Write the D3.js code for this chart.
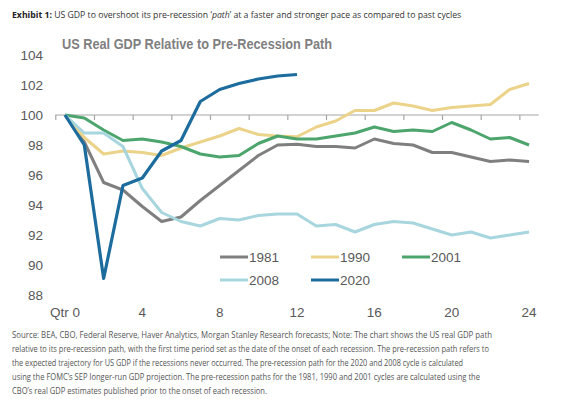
<!DOCTYPE html>
<html><head><meta charset="utf-8">
<script src="https://cdn.jsdelivr.net/npm/d3@7"></script>
<style>
html,body{margin:0;padding:0;background:#fff;}
svg{display:block;}
</style></head>
<body>
<svg id="chart" width="575" height="399"></svg>
<script>
const quarters = [0,1,2,3,4,5,6,7,8,9,10,11,12,13,14,15,16,17,18,19,20,21,22,23,24];
const xTickLabels = ["Qtr 0","4","8","12","16","20","24"];
const xTickQuarters = [0,4,8,12,16,20,24];
const yTicks = [88,90,92,94,96,98,100,102,104];

const s1981 = [100,98.2,95.5,95.0,93.9,92.9,93.2,94.3,95.3,96.3,97.3,98.0,98.05,97.9,97.9,97.8,98.4,98.1,98.0,97.5,97.5,97.2,96.9,97.0,96.9];
const s1990 = [100,98.5,97.4,97.6,97.5,97.3,97.8,98.2,98.6,99.1,98.7,98.6,98.55,99.2,99.6,100.3,100.3,100.8,100.6,100.3,100.5,100.6,100.7,101.7,102.1];
const s2001 = [100,99.8,99.0,98.3,98.4,98.2,97.9,97.4,97.2,97.3,98.1,98.6,98.4,98.4,98.6,98.8,99.2,98.9,99.0,98.9,99.5,99.0,98.4,98.5,98.0];
const s2008 = [100,98.8,98.8,97.9,95.1,93.5,92.9,92.6,93.1,93.0,93.3,93.4,93.4,92.6,92.7,92.2,92.7,92.9,92.8,92.4,92.0,92.2,91.8,92.0,92.2];
const s2020 = [100,98.0,89.1,95.3,95.8,97.6,98.3,100.9,101.7,102.1,102.4,102.6,102.7];

const seriesNames = ["1981","1990","2001","2008","2020"];
const seriesData = [s1981,s1990,s2001,s2008,s2020];
const seriesColors = ["#7f7f7f","#ecd38a","#4ca56c","#a8d6de","#1d6c9e"];

const headerBold = "Exhibit 1:";
const headerRest = " US GDP to overshoot its pre-recession ";
const headerItalic = "path";
const headerEnd = " at a faster and stronger pace as compared to past cycles";
const chartTitle = "US Real GDP Relative to Pre-Recession Path";
const sourceLines = [
 "Source: BEA, CBO, Federal Reserve, Haver Analytics, Morgan Stanley Research forecasts; Note: The chart shows the US real GDP path",
 "relative to its pre-recession path, with the first time period set as the date of the onset of each recession. The pre-recession path refers to",
 "the expected trajectory for US GDP if the recessions never occurred. The pre-recession path for the 2020 and 2008 cycle is calculated",
 "using the FOMC’s SEP longer-run GDP projection. The pre-recession paths for the 1981, 1990 and 2001 cycles are calculated using the",
 "CBO’s real GDP estimates published prior to the onset of each recession."
];
const sourceWidths = [480,477,451,468,255];

const svg = d3.select("#chart");
const x = d3.scaleLinear().domain([-0.5,24.5]).range([55.3,538.7]);
const y = d3.scaleLinear().domain([88,104]).range([295,55]);

// header (font size scaled to match target width)
const h = svg.append("text").attr("x",12).attr("y",17.5)
  .attr("font-family","'Open Sans', sans-serif").attr("font-size",10).attr("fill","#333");
h.append("tspan").attr("font-weight","bold").attr("fill","#222").text(headerBold);
h.append("tspan").text(headerRest + "‘");
h.append("tspan").attr("font-style","italic").text(headerItalic);
h.append("tspan").text("’" + headerEnd);
const hw = h.node().getComputedTextLength();
h.attr("font-size", 10 * 450 / hw);

// chart title
svg.append("text").attr("x",62).attr("y",48.5)
  .attr("font-family","'Liberation Sans', Arial, sans-serif").attr("font-size",15).attr("font-weight","bold")
  .attr("fill","#7f7f7f").attr("textLength",270).attr("lengthAdjust","spacingAndGlyphs").text(chartTitle);

// y axis labels
svg.append("g").selectAll("text").data(yTicks).join("text")
  .attr("x",43).attr("y",d=>y(d)).attr("dy","0.35em").attr("text-anchor","end")
  .attr("font-family","'Liberation Sans', Arial, sans-serif").attr("font-size",13.5).attr("fill","#595959")
  .text(d=>d);

// x axis at 100
const tickVals = [-0.5,1.5,3.5,5.5,7.5,9.5,11.5,13.5,15.5,17.5,19.5,21.5,23.5];
const xAxis = d3.axisBottom(x).tickValues(tickVals).tickSize(5).tickFormat("");
const gx = svg.append("g").attr("transform",`translate(0,${y(100)})`).call(xAxis);
gx.select(".domain").attr("stroke","#a6a6a6").attr("stroke-width",1.2).attr("d",`M${x(-0.5)},0H${x(24.5)}`);
gx.selectAll(".tick line").attr("stroke","#a6a6a6").attr("stroke-width",1.2);

// x labels
svg.append("g").selectAll("text").data(xTickQuarters).join("text")
  .attr("x",d=>x(d)).attr("y",316.5).attr("text-anchor","middle")
  .attr("font-family","'Liberation Sans', Arial, sans-serif").attr("font-size",13.5).attr("fill","#595959")
  .text((d,i)=>xTickLabels[i]);

// lines
const line = d3.line().x((d,i)=>x(quarters[i])).y(d=>y(d));
svg.append("g").selectAll("path").data(seriesData).join("path")
  .attr("d",d=>line(d)).attr("fill","none")
  .attr("stroke",(d,i)=>seriesColors[i]).attr("stroke-width",(d,i)=>i===4?3.2:3)
  .attr("stroke-linejoin","round");

// legend
const legPos = [[220,257],[311,257],[402,257],[220,280],[311,280]];
const leg = svg.append("g").selectAll("g").data(seriesNames).join("g")
  .attr("transform",(d,i)=>`translate(${legPos[i][0]},${legPos[i][1]})`);
leg.append("line").attr("x1",0).attr("x2",28).attr("y1",0).attr("y2",0)
  .attr("stroke",(d,i)=>seriesColors[i]).attr("stroke-width",3);
leg.append("text").attr("x",29).attr("y",0).attr("dy","0.35em")
  .attr("font-family","'Liberation Sans', Arial, sans-serif").attr("font-size",13.5).attr("fill","#595959")
  .text(d=>d);

// source
svg.append("g").selectAll("text").data(sourceLines).join("text")
  .attr("x",12).attr("y",(d,i)=>338+i*14)
  .attr("font-family","'Open Sans', sans-serif").attr("font-size",8.6).attr("fill","#555")
  .attr("textLength",(d,i)=>sourceWidths[i]).attr("lengthAdjust","spacingAndGlyphs")
  .text(d=>d);
</script>
</body></html>
